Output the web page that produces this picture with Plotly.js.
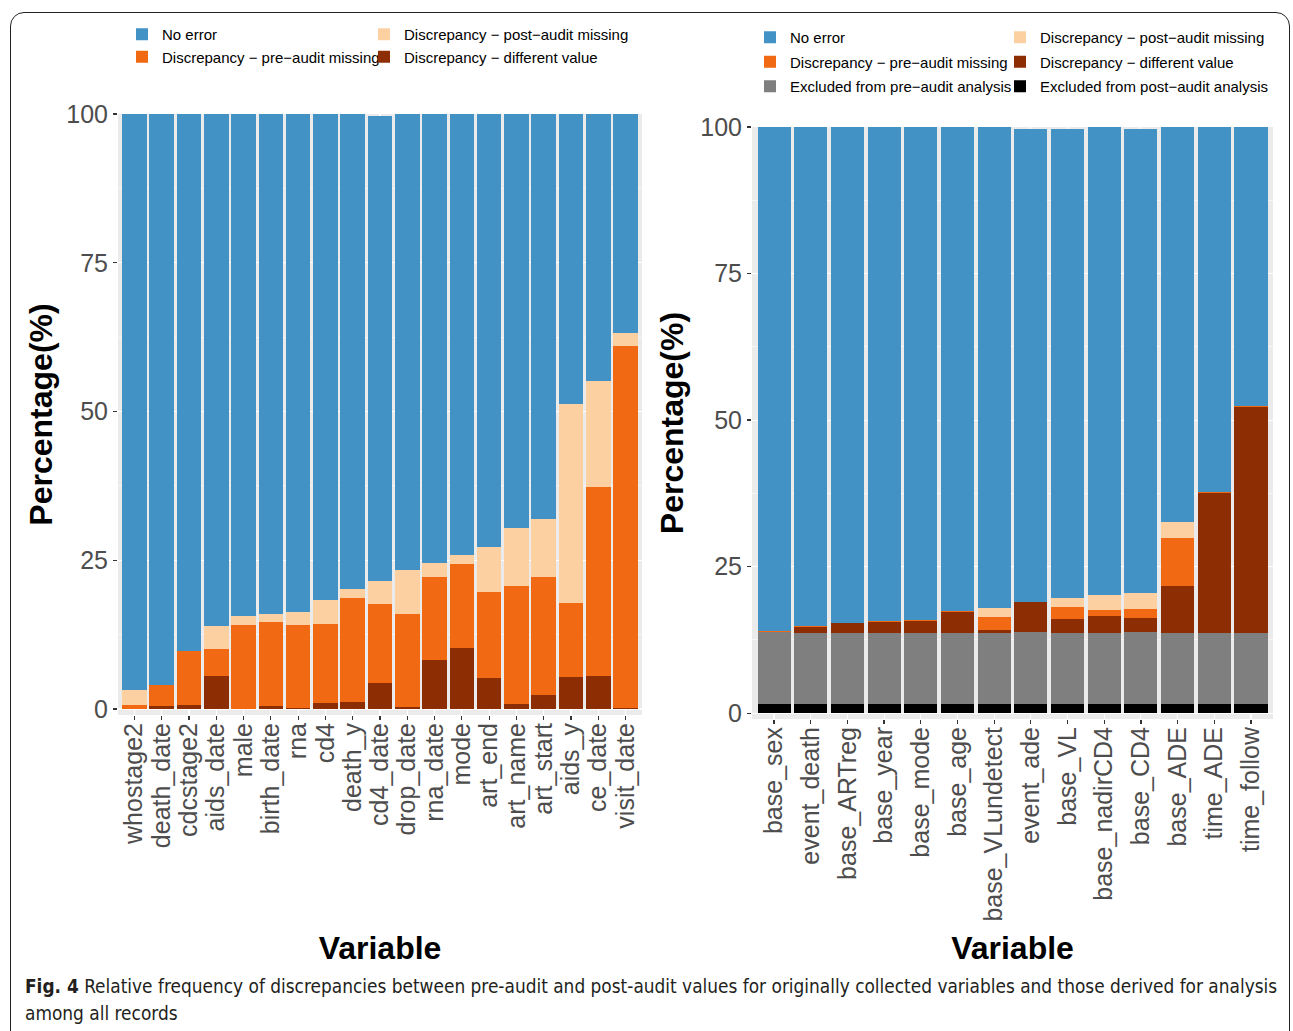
<!DOCTYPE html>
<html><head><meta charset="utf-8">
<script src="https://cdn.plot.ly/plotly-3.0.1.min.js"></script>
<style>
html,body{margin:0;padding:0;background:#fff;overflow:hidden;width:1293px;height:1031px;}
#frame{position:absolute;left:10px;top:12px;width:1280px;height:1060px;border:1.5px solid #222;border-radius:14px;box-sizing:border-box;}
#chart{position:absolute;left:0;top:0;width:1293px;height:1031px;}
#caption{position:absolute;left:25px;top:973px;font-family:"Liberation Sans Narrow","DejaVu Sans Condensed",sans-serif;font-size:20px;line-height:27px;color:#231f20;white-space:nowrap;transform:scaleX(0.944);transform-origin:0 0;}
</style></head>
<body>
<div id="frame"></div>
<div id="chart"></div>
<div id="caption"><b>Fig. 4</b> Relative frequency of discrepancies between pre-audit and post-audit values for originally collected variables and those derived for analysis<br>among all records</div>
<script>
// ---- Left panel: originally collected variables ----
const catsLeft = ["whostage2","death_date","cdcstage2","aids_date","male","birth_date","rna","cd4","death_y","cd4_date","drop_date","rna_date","mode","art_end","art_name","art_start","aids_y","ce_date","visit_date"];
const leftDifferent = [0, 0.5, 0.7, 5.5, 0, 0.5, 0.2, 1.0, 1.2, 4.4, 0.4, 8.2, 10.3, 5.2, 0.8, 2.4, 5.4, 5.5, 0.2];
const leftPreMissing = [0.7, 3.6, 9.0, 4.6, 14.1, 14.1, 13.9, 13.3, 17.5, 13.2, 15.6, 14.0, 14.1, 14.5, 19.9, 19.8, 12.4, 31.8, 60.8];
const leftPostMissing = [2.5, 0, 0, 3.9, 1.5, 1.4, 2.2, 4.0, 1.5, 4.0, 7.4, 2.4, 1.5, 7.6, 9.8, 9.8, 33.5, 17.8, 2.2];
const leftNoError = [96.8, 95.9, 90.3, 86.0, 84.4, 84.0, 83.7, 81.7, 79.8, 78.0, 76.6, 75.4, 74.1, 72.7, 69.5, 68.0, 48.7, 44.9, 36.8];

// ---- Right panel: derived variables ----
const catsRight = ["base_sex","event_death","base_ARTreg","base_year","base_mode","base_age","base_VLundetect","event_ade","base_VL","base_nadirCD4","base_CD4","base_ADE","time_ADE","time_follow"];
const rightExclPost = [1.6, 1.6, 1.6, 1.6, 1.6, 1.6, 1.6, 1.6, 1.6, 1.6, 1.6, 1.6, 1.6, 1.6];
const rightExclPre = [12.2, 12.1, 12.1, 12.1, 12.1, 12.1, 12.1, 12.2, 12.1, 12.1, 12.2, 12.1, 12.1, 12.1];
const rightDifferent = [0, 1.0, 1.6, 1.9, 2.1, 3.5, 0.5, 5.2, 2.4, 2.9, 2.5, 8.0, 23.9, 38.5];
const rightPreMissing = [0.15, 0.15, 0.1, 0.15, 0.15, 0.15, 2.2, 0, 2.0, 1.0, 1.5, 8.2, 0.15, 0.15];
const rightPostMissing = [0, 0, 0, 0, 0, 0, 1.6, 0, 1.6, 2.6, 2.7, 2.7, 0, 0];
const rightNoError = [86.0, 85.15, 84.6, 84.25, 84.05, 82.65, 82.0, 80.7, 80.0, 79.8, 79.2, 67.4, 62.25, 47.65];

const yTicks = [0, 25, 50, 75, 100];
const yTickText = ["0", "25", "50", "75", "100"];

const C = {blue:"#4292C6", orange:"#F16913", light:"#FDD0A2", dark:"#8C2D04", gray:"#7F7F7F", black:"#000000"};
const N = {
  no:"No error",
  post:"Discrepancy \u2212 post\u2212audit missing",
  pre:"Discrepancy \u2212 pre\u2212audit missing",
  diff:"Discrepancy \u2212 different value",
  exPre:"Excluded from pre\u2212audit analysis",
  exPost:"Excluded from post\u2212audit analysis"
};

function bar(x, y, name, color, xa, ya, legend, rank){
  return {type:"bar", x:x, y:y, name:name, marker:{color:color, line:{width:0}},
    xaxis:xa, yaxis:ya, legend:legend, legendrank:rank, legendgroup:name + xa,
    hovertemplate:"%{x}: %{y}%<extra>"+name+"</extra>"};
}

const data = [
  bar(catsLeft, leftDifferent, N.diff, C.dark, "x", "y", "legend2", 2),
  bar(catsLeft, leftPreMissing, N.pre, C.orange, "x", "y", "legend", 2),
  bar(catsLeft, leftPostMissing, N.post, C.light, "x", "y", "legend2", 1),
  bar(catsLeft, leftNoError, N.no, C.blue, "x", "y", "legend", 1),

  bar(catsRight, rightExclPost, N.exPost, C.black, "x2", "y2", "legend4", 3),
  bar(catsRight, rightExclPre, N.exPre, C.gray, "x2", "y2", "legend3", 3),
  bar(catsRight, rightDifferent, N.diff, C.dark, "x2", "y2", "legend4", 2),
  bar(catsRight, rightPreMissing, N.pre, C.orange, "x2", "y2", "legend3", 2),
  bar(catsRight, rightPostMissing, N.post, C.light, "x2", "y2", "legend4", 1),
  bar(catsRight, rightNoError, N.no, C.blue, "x2", "y2", "legend3", 1)
];

const W = 1293, H = 1031;
const FONT = "Liberation Sans, Arial, Helvetica, sans-serif";

function xAxis(domain, cats, standoff){
  return {domain:domain, type:"category", range:[-0.6, cats.length - 0.4], tickangle:-90,
    tickmode:"array", tickvals:cats, ticktext:cats, ticklabelstandoff:-7,
    ticks:"outside", ticklen:4, tickwidth:1.2, tickcolor:"#333333",
    tickfont:{size:25, color:"#4D4D4D", family:FONT},
    showgrid:true, gridcolor:"#FFFFFF", gridwidth:1.1, zeroline:false, showline:false,
    title:{text:"Variable", font:{size:32, color:"#000000", family:FONT, weight:"bold"}, standoff:standoff},
    fixedrange:true};
}
function yAxis(domain, anchor, standoff){
  return {domain:domain, anchor:anchor, range:[-1, 100], tickmode:"array", tickvals:yTicks, ticktext:yTickText,
    ticks:"outside", ticklen:4, tickwidth:1.2, tickcolor:"#333333",
    tickfont:{size:25, color:"#4D4D4D", family:FONT},
    showgrid:true, gridcolor:"#FFFFFF", gridwidth:1.1, zeroline:false, showline:false,
    minor:{tickvals:[12.5, 37.5, 62.5, 87.5], showgrid:true, gridcolor:"#FFFFFF", gridwidth:0.55, ticks:""},
    title:{text:"Percentage(%)", font:{size:32, color:"#000000", family:FONT, weight:"bold"}, standoff:standoff},
    fixedrange:true};
}
function legend(xpx, ypx, gap){
  return {x:xpx/W, xanchor:"left", y:1 - ypx/H, yanchor:"top", orientation:"v",
    traceorder:"grouped", tracegroupgap:gap,
    font:{size:15, color:"#000000", family:FONT}, bgcolor:"rgba(0,0,0,0)", borderwidth:0};
}

const layout = {
  width:W, height:H, margin:{l:0, r:0, t:0, b:0},
  paper_bgcolor:"rgba(0,0,0,0)", plot_bgcolor:"#EBEBEB",
  barmode:"stack", bargap:0.1, showlegend:true,
  font:{family:FONT, size:25, color:"#4D4D4D"},
  xaxis:Object.assign(xAxis([118/W, 642/W], catsLeft, 89), {anchor:"y"}),
  yaxis:yAxis([1 - 715/H, 1 - 114/H], "x", 4),
  xaxis2:Object.assign(xAxis([752/W, 1273/W], catsRight, 15), {anchor:"y2"}),
  yaxis2:yAxis([1 - 719/H, 1 - 127/H], "x2", 7),
  legend:legend(122, 18, 0),
  legend2:legend(364, 18, 0),
  legend3:legend(750, 21, 2),
  legend4:legend(1000, 21, 2)
};

Plotly.newPlot("chart", data, layout, {displayModeBar:false, staticPlot:true});
</script>
</body></html>
